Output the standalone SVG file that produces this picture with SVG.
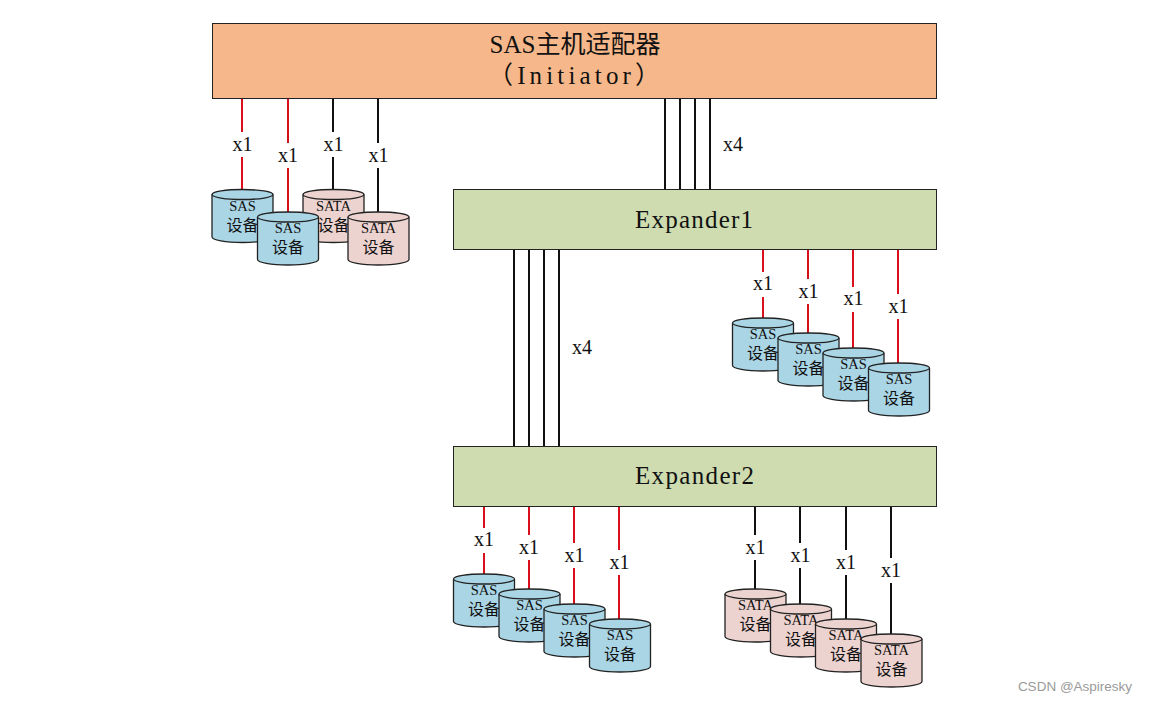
<svg xmlns="http://www.w3.org/2000/svg" width="1149" height="703" viewBox="0 0 1149 703">
<style>
text{font-family:"Liberation Serif","Noto Sans CJK SC",serif;fill:#111;text-anchor:middle}
.box{stroke:#222;stroke-width:1}
.host{fill:#f6b88a}
.exp{fill:#cedcb0}
.title{font-size:25px}
.link{fill:none;stroke-width:2}
.red{stroke:#d9101c}
.blk{stroke:#111}
.lbl{font-size:20px}
.gap{fill:#fff}
.body{stroke:#222;stroke-width:1.3}
.sas{fill:#a9d5e5}
.sata{fill:#ecd3cf}
.t1{font-size:14.500px}
.t2{font-size:16px}
.mark{font-family:"Liberation Sans",sans-serif;font-size:13.500px;fill:#9a9a9a}
</style>
<defs>
<g id="can">
<path class="body" d="M0 5V47.500C0 50.500 13.500 53 30.500 53S61 50.500 61 47.500V5"/>
<ellipse class="body" cx="30.500" cy="5" rx="30.500" ry="5"/>
</g>
</defs>
<g id="connectors">
<g class="link red">
<path d="M242 98V190M288 98V212"/>
<path d="M763 249V318M808 249V333M853 249V348M898 249V363"/>
<path d="M484 506V574M529 506V589M574 506V604M619 506V619"/>
</g>
<g class="link blk">
<path d="M333 98V190M378 98V212"/>
<path d="M665 98V190M680 98V190M695 98V190M710 98V190"/>
<path d="M514 249V446M529 249V446M544 249V446M559 249V446"/>
<path d="M755 506V589M800 506V604M846 506V619M891 506V634"/>
</g>
<g class="gap">
<rect x="230" y="132" width="25" height="25"/><rect x="275" y="143" width="25" height="25"/><rect x="320" y="132" width="25" height="25"/><rect x="365" y="143" width="25" height="25"/>
<rect x="750" y="272" width="25" height="25"/><rect x="796" y="279" width="25" height="25"/><rect x="841" y="287" width="25" height="25"/><rect x="886" y="294" width="25" height="25"/>
<rect x="471" y="528" width="25" height="25"/><rect x="517" y="535" width="25" height="25"/><rect x="562" y="543" width="25" height="25"/><rect x="607" y="550" width="25" height="25"/>
<rect x="743" y="535" width="25" height="25"/><rect x="788" y="543" width="25" height="25"/><rect x="833" y="550" width="25" height="25"/><rect x="879" y="558" width="25" height="25"/>
</g>
<g class="lbl">
<text x="242.500" y="151">x1</text><text x="288" y="162">x1</text><text x="333.500" y="151">x1</text><text x="378.500" y="162">x1</text>
<text x="733" y="151">x4</text><text x="582" y="354">x4</text>
<text x="763" y="290">x1</text><text x="808.500" y="298">x1</text><text x="853.500" y="305">x1</text><text x="898.500" y="313">x1</text>
<text x="484" y="546">x1</text><text x="529" y="554">x1</text><text x="574.500" y="562">x1</text><text x="619.500" y="569">x1</text>
<text x="755.500" y="554">x1</text><text x="800.500" y="562">x1</text><text x="846" y="569">x1</text><text x="891" y="577">x1</text>
</g>
</g>
<g id="initiator">
<rect class="box host" x="212.500" y="23.500" width="724" height="75"/>
<text class="title" x="575" y="53">SAS主机适配器</text>
<text class="title" x="574" y="84" textLength="172">（Initiator）</text>
</g>
<g id="expander1">
<rect class="box exp" x="453.500" y="189.500" width="483" height="60"/>
<text class="title" x="694" y="228" textLength="118">Expander1</text>
</g>
<g id="expander2">
<rect class="box exp" x="453.500" y="446.500" width="483" height="60"/>
<text class="title" x="694.500" y="484" textLength="119">Expander2</text>
</g>
<g id="host-sas-1" transform="translate(212 189.500)"><use href="#can" class="sas"/><text class="t1" x="30.500" y="21">SAS</text><text class="t2" x="30.500" y="41">设备</text></g>
<g id="host-sata-1" transform="translate(303 189.500)"><use href="#can" class="sata"/><text class="t1" x="30.500" y="21">SATA</text><text class="t2" x="30.500" y="41">设备</text></g>
<g id="host-sas-2" transform="translate(257.500 212)"><use href="#can" class="sas"/><text class="t1" x="30.500" y="21">SAS</text><text class="t2" x="30.500" y="41">设备</text></g>
<g id="host-sata-2" transform="translate(348 212)"><use href="#can" class="sata"/><text class="t1" x="30.500" y="21">SATA</text><text class="t2" x="30.500" y="41">设备</text></g>
<g id="e1-sas-1" transform="translate(732.500 318)"><use href="#can" class="sas"/><text class="t1" x="30.500" y="21">SAS</text><text class="t2" x="30.500" y="41">设备</text></g>
<g id="e1-sas-2" transform="translate(778 333)"><use href="#can" class="sas"/><text class="t1" x="30.500" y="21">SAS</text><text class="t2" x="30.500" y="41">设备</text></g>
<g id="e1-sas-3" transform="translate(823 348)"><use href="#can" class="sas"/><text class="t1" x="30.500" y="21">SAS</text><text class="t2" x="30.500" y="41">设备</text></g>
<g id="e1-sas-4" transform="translate(868.500 363)"><use href="#can" class="sas"/><text class="t1" x="30.500" y="21">SAS</text><text class="t2" x="30.500" y="41">设备</text></g>
<g id="e2-sas-1" transform="translate(453.500 574)"><use href="#can" class="sas"/><text class="t1" x="30.500" y="21">SAS</text><text class="t2" x="30.500" y="41">设备</text></g>
<g id="e2-sas-2" transform="translate(499 589)"><use href="#can" class="sas"/><text class="t1" x="30.500" y="21">SAS</text><text class="t2" x="30.500" y="41">设备</text></g>
<g id="e2-sas-3" transform="translate(544 604)"><use href="#can" class="sas"/><text class="t1" x="30.500" y="21">SAS</text><text class="t2" x="30.500" y="41">设备</text></g>
<g id="e2-sas-4" transform="translate(589.500 619)"><use href="#can" class="sas"/><text class="t1" x="30.500" y="21">SAS</text><text class="t2" x="30.500" y="41">设备</text></g>
<g id="e2-sata-1" transform="translate(725 589)"><use href="#can" class="sata"/><text class="t1" x="30.500" y="21">SATA</text><text class="t2" x="30.500" y="41">设备</text></g>
<g id="e2-sata-2" transform="translate(770.500 604)"><use href="#can" class="sata"/><text class="t1" x="30.500" y="21">SATA</text><text class="t2" x="30.500" y="41">设备</text></g>
<g id="e2-sata-3" transform="translate(815.500 619)"><use href="#can" class="sata"/><text class="t1" x="30.500" y="21">SATA</text><text class="t2" x="30.500" y="41">设备</text></g>
<g id="e2-sata-4" transform="translate(861 634)"><use href="#can" class="sata"/><text class="t1" x="30.500" y="21">SATA</text><text class="t2" x="30.500" y="41">设备</text></g>
<text class="mark" x="1075" y="691">CSDN @Aspiresky</text>
</svg>
